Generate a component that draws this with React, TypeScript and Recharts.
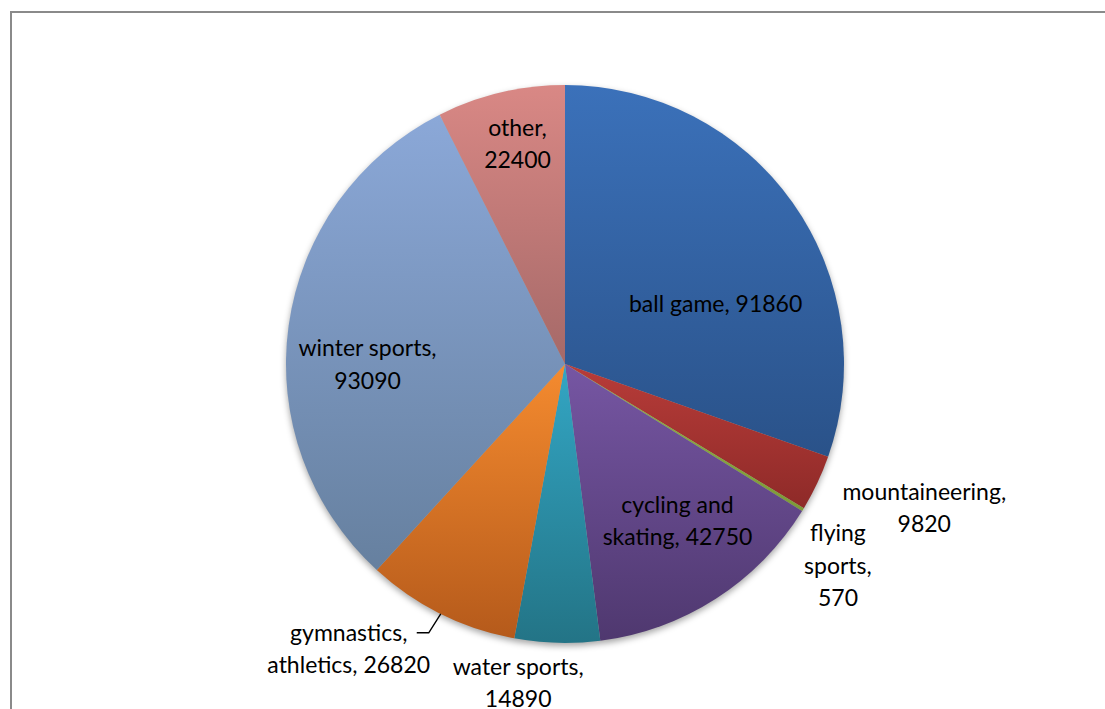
import { Cell, Pie, PieChart } from 'recharts';

// sport categories, clockwise from 12 o'clock
const categories = [
    'ball game',
    'mountaineering',
    'flying sports',
    'cycling and skating',
    'water sports',
    'gymnastics, athletics',
    'winter sports',
    'other',
];
const counts = [91860, 9820, 570, 42750, 14890, 26820, 93090, 22400];

// gradient colours per slice: [top, bottom]
const COLORS = [
    ['#3b71ba', '#2a5289'],
    ['#b83c39', '#8e2a28'],
    ['#93b446', '#7d9a38'],
    ['#7656a3', '#4f386f'],
    ['#33a6c4', '#237486'],
    ['#f58b2f', '#b55a1b'],
    ['#8ba8d8', '#66809f'],
    ['#d98885', '#a56968'],
];

// label layout: radius ratio, offset, words per line, leader line
const LABELS = [
    { ratio: 0.6, dx: 14, dy: 36, wrap: [3] },
    { ratio: 1, dx: 107, dy: 24, wrap: [1, 1] },
    { ratio: 1, dx: 35, dy: 55, wrap: [1, 1, 1] },
    { ratio: 0.6, dx: 22, dy: 15, wrap: [2, 2] },
    { ratio: 1, dx: -39, dy: 39, wrap: [2, 1] },
    { ratio: 1, dx: -92, dy: 34, wrap: [1, 2], leader: true },
    { ratio: 0.7, dx: -4, dy: 26, wrap: [2, 1] },
    { ratio: 0.8, dx: 4, dy: -4, wrap: [1, 1] },
];

const data = categories.map((name, i) => ({ name, value: counts[i] }));
const total = counts.reduce((a, b) => a + b, 0);
const RADIAN = Math.PI / 180;
const LINE_H = 32.5;

const renderLabel = (props: any) => {
    const { cx, cy, midAngle, outerRadius, index, name, value } = props;
    const cfg = LABELS[index];
    const r = outerRadius * cfg.ratio;
    const ex = cx + outerRadius * Math.cos(-midAngle * RADIAN);
    const ey = cy + outerRadius * Math.sin(-midAngle * RADIAN);
    const x = cx + r * Math.cos(-midAngle * RADIAN) + cfg.dx;
    const y = cy + r * Math.sin(-midAngle * RADIAN) + cfg.dy;
    const words = `${name}, ${value}`.split(' ');
    const lines: string[] = [];
    let k = 0;
    cfg.wrap.forEach((n) => {
        lines.push(words.slice(k, k + n).join(' '));
        k += n;
    });
    const y0 = y - ((lines.length - 1) * LINE_H) / 2;
    return (
        <g key={`label-${index}`}>
            {cfg.leader && (
                <polyline
                    points={`${ex},${ey} ${ex - 12},${ey + 19} ${ex - 24},${ey + 19}`}
                    fill="none"
                    stroke="#000"
                    strokeWidth={1.4}
                />
            )}
            <text
                x={x}
                y={y0}
                textAnchor="middle"
                dominantBaseline="central"
                fill="#000"
                style={{ fontFamily: 'Lato, sans-serif', fontSize: 23 }}
            >
                {lines.map((l, i) => (
                    <tspan key={i} x={x} y={y0 + i * LINE_H}>
                        {l}
                    </tspan>
                ))}
            </text>
        </g>
    );
};

const App = () => {
    return (
        <div style={{ position: 'absolute', left: 0, top: 0, width: 1105, height: 709, background: '#fff', overflow: 'hidden' }}>
            <div
                style={{
                    position: 'absolute',
                    left: 10,
                    top: 11,
                    width: 1200,
                    height: 800,
                    border: '2px solid #8a8a8a',
                    boxSizing: 'border-box',
                }}
            />
            <div style={{ position: 'absolute', left: 0, top: 0 }}>
                <PieChart width={1105} height={709} margin={{ top: 0, right: 0, bottom: 0, left: 0 }}>
                    <defs>
                        {COLORS.map((c, i) => (
                            <linearGradient key={i} id={`grad-${i}`} x1="0" y1="0" x2="0" y2="1">
                                <stop offset="0%" stopColor={c[0]} />
                                <stop offset="100%" stopColor={c[1]} />
                            </linearGradient>
                        ))}
                        <filter id="pieShadow" x="-10%" y="-10%" width="120%" height="120%">
                            <feGaussianBlur stdDeviation="3" />
                        </filter>
                    </defs>
                    <Pie
                        data={[{ name: 'shadow', value: total }]}
                        dataKey="value"
                        cx={565}
                        cy={367}
                        outerRadius={279}
                        startAngle={90}
                        endAngle={-270}
                        fill="rgba(0,0,0,0.35)"
                        stroke="none"
                        style={{ filter: 'url(#pieShadow)' }}
                        isAnimationActive={false}
                        label={false}
                        labelLine={false}
                    />
                    <Pie
                        data={data}
                        dataKey="value"
                        nameKey="name"
                        cx={565}
                        cy={364}
                        outerRadius={279}
                        startAngle={90}
                        endAngle={-270}
                        stroke="none"
                        isAnimationActive={false}
                        label={renderLabel}
                        labelLine={false}
                    >
                        {data.map((entry, index) => (
                            <Cell key={`cell-${entry.name}`} fill={`url(#grad-${index})`} />
                        ))}
                    </Pie>
                </PieChart>
            </div>
        </div>
    );
};

export default App;
